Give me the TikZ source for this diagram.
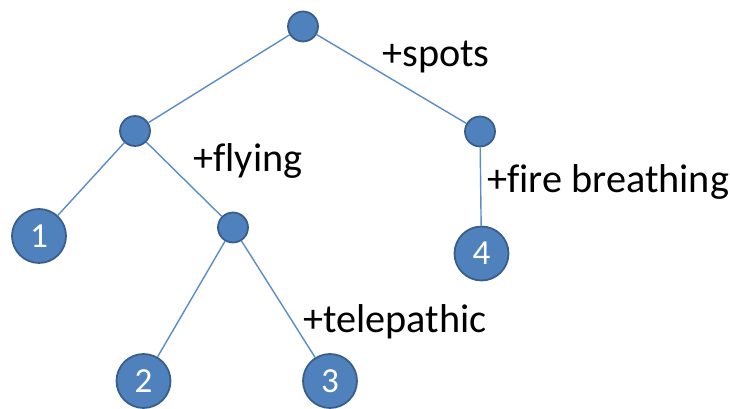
\documentclass[tikz,border=0pt]{standalone}
\usepackage{fontspec}
\setmainfont[Ligatures=NoCommon]{Carlito}
\usetikzlibrary{positioning}

\definecolor{nodeFill}{HTML}{4F81BD}
\definecolor{nodeDraw}{HTML}{385D8A}
\definecolor{edgeCol}{HTML}{5B8CC8}

\begin{document}
\begin{tikzpicture}
\tikzstyle{inner}=[circle,fill=nodeFill,draw=nodeDraw,line width=1pt,minimum size=0.6cm,inner sep=0pt]
\tikzstyle{leaf}=[circle,fill=nodeFill,draw=nodeDraw,line width=1pt,minimum size=1.08cm,inner sep=0pt,text=white,font=\fontsize{20}{22}\selectfont]
\tikzstyle{trait}=[anchor=base west,inner sep=0pt,font=\fontsize{22.9}{25}\selectfont]

\useasboundingbox (0,0) rectangle (14.6,8.18);

% \draw[help lines] (0,0) grid (15,8);

\node[inner] (root) at (6.06,7.65) {};
\node[inner] (noSpots) at (2.70,5.56) {};
\node[inner] (spots) at (9.60,5.55) {};
\node[inner] (flying) at (4.66,3.63) {};

\node[leaf] (one) at (0.78,3.46) {1};
\node[leaf] (two) at (2.87,0.56) {2};
\node[leaf] (three) at (6.60,0.56) {3};
\node[leaf] (four) at (9.63,3.11) {4};

\node[trait] (lblSpots) at (7.64,6.84) {+spots};
\node[trait] (lblFlying) at (3.86,4.74) {+flying};
\node[trait] (lblFire) at (9.74,4.32) {+fire breathing};
\node[trait] (lblTele) at (6.06,1.52) {+telepathic};

\path[draw=edgeCol, line width=0.8pt] (root) edge (noSpots);
\path[draw=edgeCol, line width=0.8pt] (root) edge (spots);
\path[draw=edgeCol, line width=0.8pt] (noSpots) edge (one);
\path[draw=edgeCol, line width=0.8pt] (noSpots) edge (flying);
\path[draw=edgeCol, line width=0.8pt] (flying) edge (two);
\path[draw=edgeCol, line width=0.8pt] (flying) edge (three);
\path[draw=edgeCol, line width=0.8pt] (spots) edge (four);

\end{tikzpicture}
\end{document}
